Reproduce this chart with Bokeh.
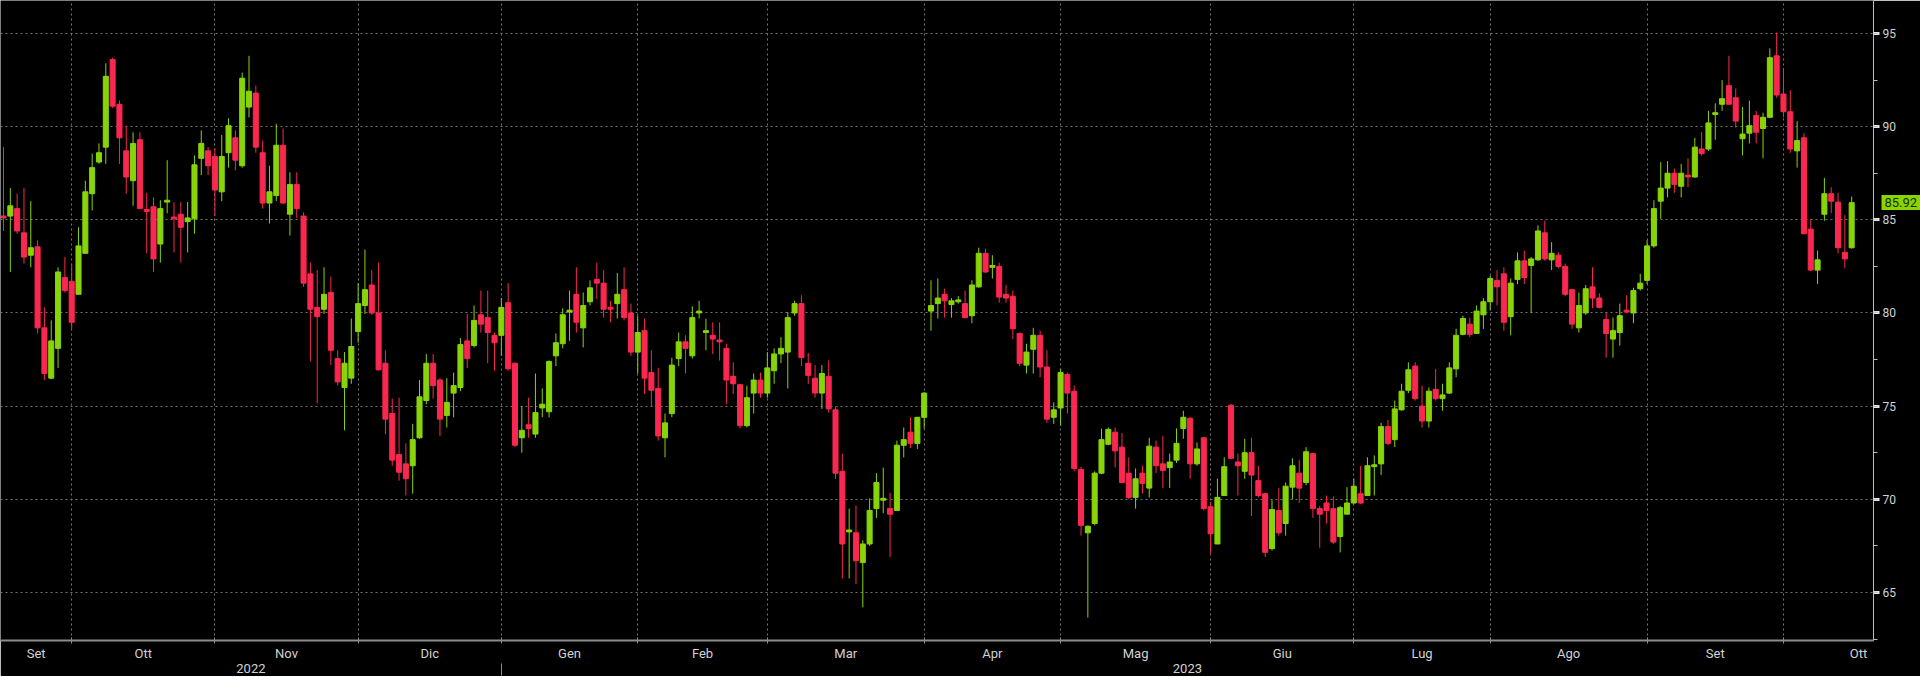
from bokeh.plotting import figure
from bokeh.models import (Range1d, LinearAxis, FixedTicker, SingleIntervalTicker,
                          ColumnDataSource)
from bokeh.embed import file_html
from bokeh.resources import INLINE

# ---------------- data (trading-day index 0..271, Sep 2022 - Oct 2023) ----------------
opens = [
    85.2, 85.2, 85.6, 84.3, 83.1, 83.55, 79.2, 76.5, 78.1, 81.9,
    81.7, 81.0, 83.2, 86.4, 88.1, 88.9, 93.6, 91.2, 88.7, 87.1,
    89.3, 85.55, 85.7, 83.7, 85.95, 85.15, 85.3, 84.9, 85.05, 88.3,
    88.7, 88.4, 86.5, 88.6, 89.4, 87.9, 91.05, 91.8, 88.6, 85.9,
    86.3, 89.0, 85.3, 86.9, 85.2, 82.1, 80.3, 80.2, 81.1, 77.55,
    76.0, 76.5, 79.0, 80.4, 81.5, 80.0, 77.3, 74.6, 72.4, 71.9,
    71.8, 73.3, 75.3, 77.3, 76.4, 74.5, 75.7, 76.0, 78.5, 78.25,
    79.9, 79.75, 78.8, 78.8, 80.55, 77.3, 73.3, 74.0, 73.5, 74.9,
    74.7, 77.7, 78.35, 80.05, 81.0, 79.2, 80.6, 81.8, 81.6, 80.3,
    80.5, 81.25, 80.0, 77.9, 79.05, 76.8, 75.95, 73.3, 74.6, 77.55,
    78.45, 77.7, 80.0, 78.95, 78.8, 78.55, 78.1, 76.6, 76.15, 73.95,
    75.7, 76.4, 75.7, 76.9, 77.8, 77.9, 80.0, 80.5, 77.3, 76.5,
    75.7, 76.6, 74.8, 71.5, 68.25, 68.2, 66.6, 67.6, 69.5, 69.95,
    69.5, 69.4, 72.9, 73.6, 73.0, 74.4, 80.1, 80.5, 81.0, 80.45,
    80.6, 80.5, 79.85, 81.4, 83.2, 82.45, 82.5, 81.0, 80.9, 78.9,
    77.2, 78.05, 78.8, 77.1, 74.4, 74.9, 76.7, 75.8, 71.6, 68.2,
    68.7, 71.4, 72.95, 73.6, 72.8, 71.4, 70.1, 71.4, 70.6, 72.8,
    71.9, 71.7, 72.1, 73.8, 74.35, 71.9, 73.3, 69.6, 67.6, 70.2,
    75.05, 72.0, 71.5, 72.5, 71.0, 70.3, 67.35, 69.4, 68.7, 70.65,
    71.4, 70.9, 72.45, 69.5, 69.8, 69.5, 68.0, 69.2, 69.8, 70.3,
    70.2, 71.75, 71.9, 73.9, 73.2, 74.8, 75.85, 77.15, 75.0, 74.2,
    75.9, 75.4, 75.7, 77.0, 78.85, 79.4, 78.9, 79.9, 80.6, 81.75,
    82.1, 79.8, 81.8, 82.8, 82.55, 82.85, 84.3, 82.85, 83.1, 82.5,
    81.25, 79.2, 80.0, 81.4, 80.8, 79.65, 78.6, 78.95, 80.15, 80.0,
    81.3, 81.75, 83.6, 86.0, 86.7, 87.5, 86.8, 87.4, 87.3, 88.8,
    88.8, 90.65, 91.2, 92.2, 91.55, 89.35, 89.65, 90.6, 89.9, 90.5,
    93.8, 91.75, 90.8, 88.7, 89.4, 84.5, 82.3, 85.3, 86.4, 85.95,
    83.25, 83.5,
]
highs = [
    88.9, 86.7, 86.4, 86.7, 86.0, 83.9, 80.3, 79.6, 82.45, 83.0,
    82.65, 84.6, 87.1, 88.55, 89.1, 93.4, 93.7, 91.4, 90.05, 89.7,
    89.7, 86.45, 86.2, 86.05, 88.2, 85.95, 85.95, 85.95, 88.45, 89.8,
    88.9, 88.85, 89.55, 90.45, 89.8, 92.9, 93.8, 92.2, 89.25, 87.9,
    90.15, 89.9, 87.55, 87.55, 85.4, 82.7, 82.3, 82.45, 81.95, 78.0,
    77.9, 79.7, 81.6, 83.4, 82.3, 82.7, 78.0, 75.4, 75.45, 73.0,
    74.05, 76.4, 77.8, 77.8, 76.5, 76.5, 76.8, 78.65, 79.95, 80.4,
    81.2, 81.2, 78.95, 80.8, 81.6, 77.35, 75.0, 75.45, 76.75, 75.95,
    77.45, 78.9, 80.25, 81.2, 82.45, 81.1, 81.75, 82.7, 82.3, 80.65,
    82.15, 82.45, 80.5, 79.85, 79.7, 78.0, 77.05, 74.6, 77.6, 78.95,
    78.8, 80.35, 80.65, 79.7, 79.5, 79.5, 78.35, 77.35, 76.2, 76.1,
    76.75, 76.8, 77.9, 78.1, 78.7, 80.05, 80.65, 80.95, 77.85, 77.2,
    77.2, 77.45, 74.95, 72.45, 69.5, 69.65, 67.8, 70.05, 71.4, 71.7,
    70.35, 73.15, 73.85, 74.4, 74.4, 75.75, 81.75, 81.85, 81.3, 80.8,
    80.9, 81.2, 81.75, 83.5, 83.45, 83.1, 82.7, 81.5, 81.2, 78.95,
    78.35, 79.2, 79.05, 78.0, 75.2, 77.0, 76.8, 76.1, 71.75, 68.6,
    71.5, 73.8, 73.85, 73.85, 73.55, 72.25, 71.65, 71.8, 73.3, 73.15,
    73.4, 72.45, 73.8, 74.75, 74.4, 73.05, 73.35, 69.85, 71.1, 72.25,
    75.1, 72.45, 73.25, 73.3, 71.8, 70.35, 69.95, 70.6, 70.9, 72.2,
    72.1, 72.8, 72.5, 69.65, 70.2, 70.15, 69.65, 70.65, 71.1, 71.8,
    72.25, 72.35, 74.1, 74.25, 75.3, 76.2, 77.35, 77.35, 76.1, 76.0,
    77.0, 76.2, 77.35, 79.15, 79.85, 79.75, 80.4, 80.8, 82.0, 82.3,
    82.45, 81.85, 83.25, 83.35, 83.0, 84.7, 84.95, 83.8, 83.25, 82.65,
    81.3, 81.1, 81.5, 82.45, 81.05, 80.05, 79.75, 80.5, 80.95, 81.35,
    82.1, 83.9, 86.05, 88.1, 88.15, 87.75, 88.0, 88.3, 89.4, 89.7,
    90.85, 91.25, 92.5, 93.8, 92.05, 91.05, 91.4, 90.85, 90.75, 94.2,
    95.05, 93.15, 91.95, 90.3, 89.65, 85.05, 83.35, 87.25, 86.75, 86.45,
    85.25, 86.25,
]
lows = [
    84.4, 82.2, 84.25, 82.65, 82.45, 78.9, 76.4, 76.45, 77.05, 81.1,
    79.15, 81.0, 83.2, 85.5, 88.0, 88.0, 91.0, 88.0, 86.4, 85.75,
    85.6, 83.2, 82.2, 82.7, 85.35, 83.25, 82.7, 83.25, 84.25, 87.4,
    87.4, 85.2, 86.0, 87.8, 87.65, 87.8, 90.5, 88.6, 85.6, 84.8,
    86.0, 85.85, 84.15, 85.1, 81.4, 77.4, 75.15, 79.95, 77.2, 76.1,
    73.7, 76.2, 78.4, 79.95, 79.9, 76.9, 73.5, 71.8, 71.0, 70.2,
    70.3, 73.25, 75.1, 75.4, 73.4, 73.85, 74.4, 75.8, 77.05, 78.15,
    78.95, 77.3, 76.9, 77.7, 76.9, 72.8, 72.5, 73.3, 73.3, 74.4,
    74.4, 77.15, 78.1, 78.5, 78.95, 78.15, 80.4, 80.75, 79.75, 79.5,
    79.7, 79.6, 77.7, 76.75, 75.65, 75.0, 73.15, 72.25, 74.4, 77.15,
    76.75, 77.55, 79.7, 78.0, 77.8, 77.45, 75.1, 75.65, 73.8, 73.85,
    74.6, 75.45, 75.45, 76.2, 77.3, 75.95, 79.85, 77.15, 76.2, 75.45,
    74.85, 74.65, 71.1, 65.75, 65.75, 65.45, 64.2, 67.5, 69.0, 69.25,
    66.9, 69.4, 72.25, 72.75, 72.7, 73.8, 79.05, 79.7, 79.75, 79.75,
    80.5, 79.7, 79.45, 81.35, 82.15, 81.85, 80.55, 80.55, 78.6, 77.15,
    76.75, 76.75, 76.55, 74.1, 74.05, 73.95, 74.6, 71.5, 68.05, 63.65,
    68.6, 71.35, 72.9, 71.7, 70.85, 70.0, 69.5, 70.3, 70.1, 71.4,
    70.6, 70.6, 71.95, 73.25, 71.1, 71.8, 69.4, 67.1, 67.6, 70.2,
    72.15, 70.2, 71.1, 69.1, 70.1, 66.9, 67.25, 68.05, 68.05, 70.0,
    69.8, 70.75, 69.0, 67.4, 68.7, 67.6, 67.15, 69.2, 69.75, 69.75,
    70.2, 70.2, 71.3, 72.9, 72.8, 74.75, 75.7, 75.3, 73.85, 73.85,
    75.3, 74.75, 75.65, 76.55, 78.8, 78.7, 78.9, 79.15, 80.15, 80.4,
    79.05, 78.8, 81.55, 81.55, 80.0, 82.8, 82.8, 82.3, 82.4, 80.9,
    79.15, 78.95, 79.9, 80.25, 80.25, 77.6, 77.6, 78.25, 80.0, 79.45,
    81.2, 81.55, 83.5, 85.05, 86.2, 86.45, 86.2, 86.75, 87.25, 88.45,
    88.7, 89.3, 90.85, 91.2, 89.95, 88.45, 89.1, 89.1, 88.3, 90.45,
    91.55, 90.5, 88.6, 87.8, 84.25, 82.25, 81.55, 84.95, 85.35, 83.2,
    82.4, 83.45,
]
closes = [
    85.1, 85.75, 84.4, 83.0, 83.5, 79.2, 76.75, 78.5, 82.2, 81.2,
    79.5, 83.6, 86.5, 87.8, 88.6, 92.7, 91.1, 89.4, 87.3, 89.1,
    85.6, 85.45, 82.9, 85.6, 86.05, 85.05, 84.6, 85.1, 87.95, 89.1,
    87.9, 86.6, 88.4, 90.05, 88.2, 92.6, 91.9, 88.9, 85.9, 86.5,
    89.0, 85.9, 86.9, 85.6, 81.6, 80.2, 79.8, 81.0, 78.0, 76.3,
    77.3, 78.2, 80.5, 81.25, 80.0, 76.95, 74.3, 72.1, 71.45, 71.1,
    73.2, 75.5, 77.3, 76.1, 74.3, 75.2, 76.1, 78.3, 77.55, 79.6,
    79.4, 78.95, 78.4, 80.3, 77.0, 72.9, 73.7, 73.8, 74.65, 75.1,
    77.4, 78.4, 79.9, 80.15, 79.5, 80.4, 81.35, 81.6, 80.2, 80.2,
    81.0, 79.75, 77.9, 78.95, 76.5, 75.85, 73.4, 74.1, 77.2, 78.45,
    78.1, 79.75, 80.1, 79.05, 78.6, 78.45, 76.4, 76.2, 73.95, 75.45,
    76.4, 75.7, 77.05, 77.8, 78.1, 79.75, 80.5, 77.6, 76.65, 75.7,
    76.75, 74.85, 71.4, 67.6, 68.35, 66.7, 67.6, 69.4, 70.9, 70.05,
    69.2, 72.9, 73.2, 73.0, 74.4, 75.7, 80.4, 80.8, 80.65, 80.65,
    80.7, 79.75, 81.5, 83.2, 82.2, 82.55, 80.85, 80.8, 79.15, 77.3,
    77.9, 78.8, 77.1, 74.3, 74.8, 76.8, 75.7, 71.65, 68.6, 68.55,
    71.4, 73.2, 73.75, 72.6, 70.9, 70.1, 71.1, 70.85, 72.85, 71.8,
    71.55, 72.0, 73.0, 74.4, 71.9, 72.7, 69.5, 68.15, 70.1, 71.75,
    72.2, 71.8, 72.5, 71.3, 70.2, 67.15, 69.45, 68.2, 70.7, 71.8,
    70.6, 72.55, 69.5, 69.2, 69.4, 67.7, 69.55, 69.8, 70.7, 69.8,
    71.8, 71.85, 73.9, 73.0, 74.85, 75.8, 76.95, 75.4, 74.2, 75.8,
    75.4, 75.6, 77.05, 78.8, 79.7, 78.85, 80.1, 80.6, 81.85, 81.4,
    79.5, 81.6, 82.8, 81.9, 82.9, 84.4, 82.9, 83.2, 82.5, 81.0,
    79.4, 80.4, 81.3, 80.8, 80.3, 78.9, 79.05, 79.85, 80.05, 81.2,
    81.6, 83.6, 85.6, 86.7, 87.5, 86.9, 87.5, 87.3, 88.9, 88.55,
    90.2, 90.75, 91.5, 91.2, 90.3, 89.6, 90.05, 89.7, 90.5, 93.7,
    91.7, 90.8, 88.8, 89.25, 84.25, 82.3, 82.85, 86.4, 86.0, 83.5,
    82.9, 85.92,
]
# index of the last trading day of each month (month separators)
month_end_idx = [10, 31, 52, 73, 93, 112, 135, 155, 177, 198, 218, 241, 261]
month_names = ["Set", "Ott", "Nov", "Dic", "Gen", "Feb", "Mar", "Apr",
               "Mag", "Giu", "Lug", "Ago", "Set", "Ott"]
year_names = ["2022", "2023"]
year_break_idx = 73
y_tick_interval = 5

# ---------------- style / layout ----------------
GREEN = "#88d40a"
RED = "#fa2850"
GRID = "#747474"
AXIS = "#8c8c8c"
TXT = "#d2d2d2"
TAG = "#8cd400"
FONT = "Roboto"

x_start, x_end = -0.44, 274.2
y_lo, y_hi = 62.42, 96.77

n = len(closes)
xs = list(range(n))
colors = [GREEN if c >= o else RED for o, c in zip(opens, closes)]
src = ColumnDataSource(dict(
    x=xs, o=opens, h=highs, l=lows, c=closes,
    top=[max(o, c) for o, c in zip(opens, closes)],
    bottom=[min(o, c) for o, c in zip(opens, closes)],
    color=colors,
))

p = figure(width=1920, height=676,
           x_range=Range1d(x_start, x_end), y_range=Range1d(y_lo, y_hi),
           y_axis_location="right", output_backend="svg", toolbar_location=None,
           background_fill_color="black", border_fill_color="black",
           min_border_left=0, min_border_top=0, min_border_right=47,
           min_border_bottom=36, outline_line_color=None)

# grids
yticker = SingleIntervalTicker(interval=y_tick_interval, num_minor_ticks=2)
p.ygrid.ticker = yticker
p.xgrid.ticker = FixedTicker(ticks=month_end_idx)
for g in (p.xgrid, p.ygrid):
    g.grid_line_color = GRID
    g.grid_line_dash = "2 3"
    g.grid_line_width = 1

# candles
p.segment(x0="x", y0="l", x1="x", y1="h", line_color="color", line_width=1, source=src)
p.vbar(x="x", width=0.74, top="top", bottom="bottom", fill_color="color",
       line_color="color", line_width=1, source=src)

# right price axis
yax = p.yaxis[0]
yax.ticker = yticker
yax.axis_line_color = "#bdbdbd"
yax.axis_line_width = 1
yax.major_tick_in = 0
yax.major_tick_out = 6
yax.major_tick_line_width = 3
yax.major_tick_line_color = "#e6e6e6"
yax.minor_tick_in = 0
yax.minor_tick_out = 4
yax.minor_tick_line_color = "#bdbdbd"
yax.major_label_standoff = 3
yax.major_label_text_color = TXT
yax.major_label_text_font = FONT
yax.major_label_text_font_size = "12px"

# last-price tag: an extra right axis with one tick (thick tick = tag background)
last = closes[-1]
tag_axis = LinearAxis(ticker=FixedTicker(ticks=[last]),
                      major_label_overrides={last: f"{last:.2f}"},
                      axis_line_color=None,
                      major_tick_in=17, major_tick_out=26,
                      major_tick_line_width=15, major_tick_line_color=TAG,
                      major_tick_line_cap="butt",
                      minor_tick_in=0, minor_tick_out=0,
                      major_label_standoff=-40,
                      major_label_text_color="#123000",
                      major_label_text_font=FONT,
                      major_label_text_font_size="13px")
p.add_layout(tag_axis, "right")

# month axis
bounds = [x_start] + month_end_idx + [month_end_idx[-1] + 22]
month_pos = [round((a + b) / 2, 2) for a, b in zip(bounds[:-1], bounds[1:])]
xax = p.xaxis[0]
xax.ticker = FixedTicker(ticks=month_pos, minor_ticks=month_end_idx)
xax.major_label_overrides = {pos: name for pos, name in zip(month_pos, month_names)}
xax.axis_line_color = AXIS
xax.axis_line_width = 2
xax.major_tick_in = 0
xax.major_tick_out = 0
xax.minor_tick_in = 3
xax.minor_tick_out = 3
xax.minor_tick_line_color = AXIS
xax.major_label_standoff = 2
xax.major_label_text_color = TXT
xax.major_label_text_font = FONT
xax.major_label_text_font_size = "13px"

# year axis (its minor tick marks the year break)
ybounds = [x_start, year_break_idx, x_end]
year_pos = [round((a + b) / 2, 2) for a, b in zip(ybounds[:-1], ybounds[1:])]
yr = LinearAxis(ticker=FixedTicker(ticks=year_pos, minor_ticks=[year_break_idx]),
                major_label_overrides={pos: name for pos, name in zip(year_pos, year_names)},
                axis_line_color=None, major_tick_in=0, major_tick_out=0,
                minor_tick_in=0, minor_tick_out=12, minor_tick_line_color=AXIS,
                major_label_standoff=-12, major_label_text_color=TXT,
                major_label_text_font=FONT, major_label_text_font_size="13px")
p.add_layout(yr, "below")

open("out.html", "w").write(file_html(p, INLINE))
